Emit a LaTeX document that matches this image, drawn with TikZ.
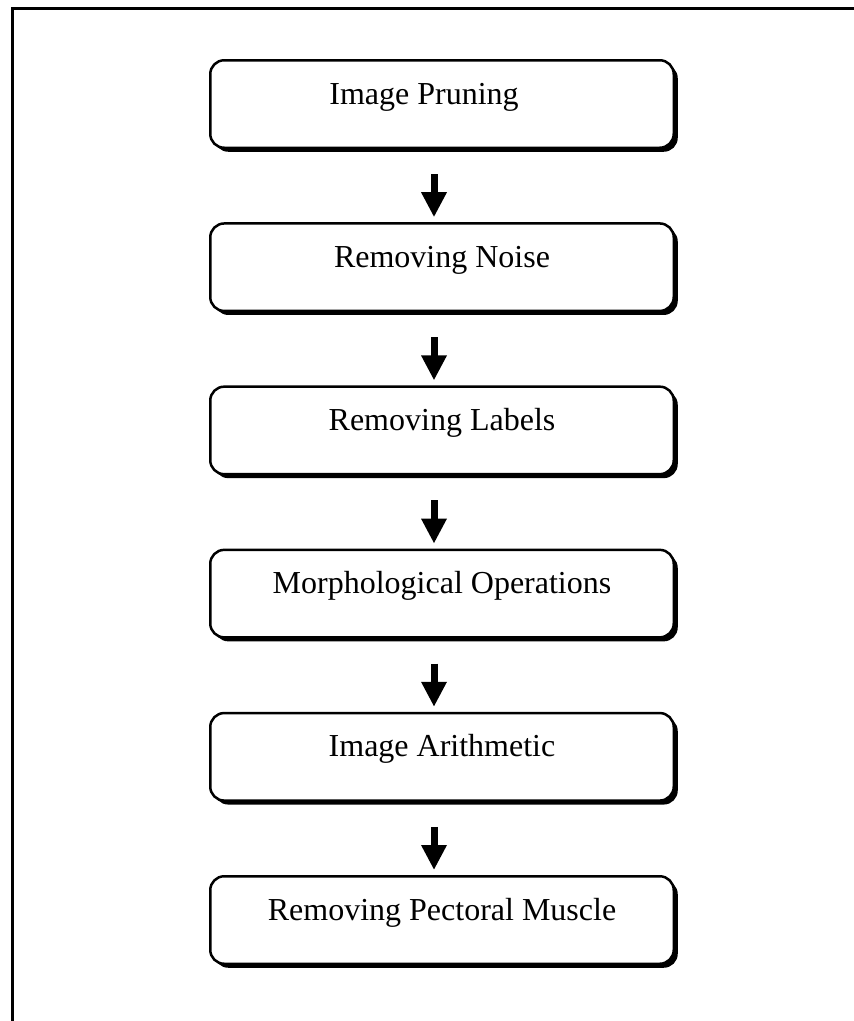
\documentclass[tikz,border=0pt]{standalone}
\usepackage{fontspec}
\setmainfont{Liberation Serif}
\usetikzlibrary{shadows,arrows.meta}

\tikzset{
  stepbox/.style={rectangle, rounded corners=14pt, draw, line width=2.5pt,
    fill=white, minimum width=463.5pt, minimum height=87.5pt,
    text height=16pt, text depth=16pt, font=\fontsize{32}{38}\selectfont,
    drop shadow={shadow xshift=4pt, shadow yshift=-4pt, opacity=1, fill=black}},
  flowarrow/.style={draw, line width=7pt, -{Triangle[width=24pt,length=25pt]},
    shorten <=25pt, shorten >=5pt}
}

\begin{document}
\begin{tikzpicture}[x=1pt,y=-1pt]

      \useasboundingbox (0,0) rectangle (854,1021);
      \draw[line width=3pt] (12.5,1021) |- (854,8.5);

      \begin{scope}[every node/.style={stepbox}]
        \node (prune)  at (442,104)   {Image Pruning\hspace*{36pt}};
        \node (noise)  at (442,267.2) {Removing Noise};
        \node (labels) at (442,430.4) {Removing Labels};
        \node (morph)  at (442,593.6) {Morphological Operations};
        \node (arith)  at (442,756.8) {Image Arithmetic};
        \node (muscle) at (442,920)   {Removing Pectoral Muscle};
      \end{scope}

      \begin{scope}[every edge/.style={flowarrow}, transform canvas={xshift=-8pt}]
        \path (prune)  edge (noise);
        \path (noise)  edge (labels);
        \path (labels) edge (morph);
        \path (morph)  edge (arith);
        \path (arith)  edge (muscle);
      \end{scope}

    \end{tikzpicture}
\end{document}
